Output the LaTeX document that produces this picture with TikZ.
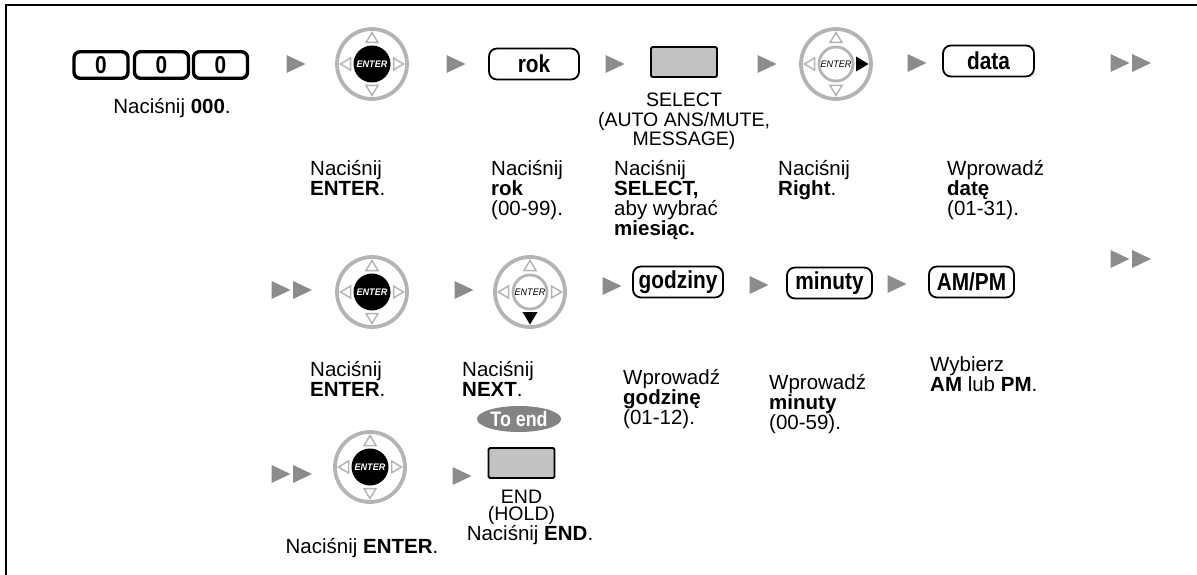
\documentclass[tikz,border=0pt]{standalone}
\usepackage{graphicx}
\usepackage{fontspec}
\setmainfont{Liberation Sans}
\usetikzlibrary{shapes.geometric}
\definecolor{ringgray}{HTML}{B4B4B4}
\definecolor{arrgray}{HTML}{8C8C8C}
\definecolor{btngray}{HTML}{C2C2C2}
\definecolor{pillgray}{HTML}{838383}
\newcommand\cnd[1]{\scalebox{0.85}[1]{#1}}
\tikzset{
  garrow/.pic={\fill[arrgray] (-9.5,-9)--(9.5,0)--(-9.5,9)--cycle;},
  gdarrow/.pic={\fill[arrgray] (-20.5,-9)--(-1.5,0)--(-20.5,9)--cycle;
                \fill[arrgray] (1,-9)--(20,0)--(1,9)--cycle;},
  wtri/.style={draw=ringgray,line width=1.5pt,line join=miter},
  btri/.style={fill=black},
  ringnode/.style={circle,draw=ringgray,line width=3.8pt,minimum size=70pt,inner sep=0pt},
  enterwheel/.pic={
    \node[ringnode] (-ring) {};
    \node[circle,fill=black,minimum size=37pt,inner sep=0pt,text=white,
          font=\fontsize{9.5}{9.5}\selectfont\bfseries\itshape] (-c) {\scalebox{0.95}[1]{ENTER}};
    \foreach \a in {0,90,180,270}{\draw[wtri,rotate=\a] (-6,-21.5)--(6,-21.5)--(0,-31.5)--cycle;}
  },
  rightwheel/.pic={
    \node[ringnode] (-ring) {};
    \node[circle,draw=ringgray,line width=2.8pt,minimum size=34pt,inner sep=0pt,
          font=\fontsize{9.5}{9.5}\selectfont\itshape] (-c) {\scalebox{0.95}[1]{ENTER}};
    \foreach \a in {0,90,180}{\draw[wtri,rotate=\a] (-6,-21.5)--(6,-21.5)--(0,-31.5)--cycle;}
    \fill[btri] (20,-7.5)--(20,7.5)--(32.5,0)--cycle;
  },
  nextwheel/.pic={
    \node[ringnode] (-ring) {};
    \node[circle,draw=ringgray,line width=2.8pt,minimum size=34pt,inner sep=0pt,
          font=\fontsize{9.5}{9.5}\selectfont\itshape] (-c) {\scalebox{0.95}[1]{ENTER}};
    \foreach \a in {0,90,270}{\draw[wtri,rotate=\a] (-6,-21.5)--(6,-21.5)--(0,-31.5)--cycle;}
    \fill[btri] (-7.5,20)--(7.5,20)--(0,32.5)--cycle;
  },
}
\begin{document}
\begin{tikzpicture}[x=1pt,y=-1pt,
  desc/.style={anchor=north west,inner sep=0pt,align=left,font=\fontsize{20.5}{20}\selectfont},
  onel/.style={inner sep=0pt,font=\fontsize{20.5}{20}\selectfont},
  lbl/.style={anchor=north,inner sep=0pt,align=center,font=\fontsize{19.5}{19.5}\selectfont},
  keyr/.style={draw,line width=1.8pt,rounded corners=8pt,minimum height=31pt,inner sep=0pt,
               font=\fontsize{24.5}{24.5}\selectfont\bfseries},
  digit/.style={draw,line width=3.4pt,rounded corners=6pt,minimum width=54pt,minimum height=26.5pt,
                inner sep=0pt,font=\fontsize{24.5}{24.5}\selectfont\bfseries},
  btn/.style={draw,fill=btngray,line width=1.8pt,rounded corners=1.5pt,minimum width=66pt,
              minimum height=30pt,inner sep=0pt},
  pill/.style={ellipse,fill=pillgray,text=white,minimum width=84pt,minimum height=26pt,inner sep=0pt,
               font=\fontsize{21}{21}\selectfont\bfseries}
]
\useasboundingbox (0,0) rectangle (1197,575);
% frame
\draw[line width=2.4pt] (1197,5) -- (6,5) -- (6,575);

% ---------- row 1 ----------
\node[digit] (k1) at (101,65) {\cnd{0}};
\node[digit] (k2) at (161.5,65) {\cnd{0}};
\node[digit] (k3) at (220.5,65) {\cnd{0}};
\node[onel] (t000) at (172,108) {Naciśnij \textbf{000}.};
\pic at (296,64) {garrow};
\pic (w1) at (372,64) {enterwheel};
\pic at (456,64) {garrow};
\node[keyr,minimum width=90pt] (rok) at (534,64) {\cnd{rok}};
\pic at (615,64) {garrow};
\node[btn] (sel) at (684,62) {};
\node[lbl] (sellbl) at (684,93) {SELECT\\(AUTO ANS/MUTE,\\MESSAGE)};
\pic at (767,64) {garrow};
\pic (w2) at (836,64) {rightwheel};
\pic at (917,63) {garrow};
\node[keyr,minimum width=91pt] (data) at (988.5,61) {\cnd{data}};
\pic at (1131,63) {gdarrow};

\node[desc] (d1) at (310,160.5) {Naciśnij\\\textbf{ENTER}.};
\node[desc] (d2) at (491,160.5) {Naciśnij\\\textbf{rok}\\(00-99).};
\node[desc] (d3) at (614,160.5) {Naciśnij\\\textbf{SELECT,}\\aby wybrać\\\textbf{miesiąc.}};
\node[desc] (d4) at (778,160.5) {Naciśnij\\\textbf{Right}.};
\node[desc] (d5) at (947,160.5) {Wprowadź\\\textbf{datę}\\(01-31).};

% ---------- row 2 ----------
\pic at (292,290) {gdarrow};
\pic (w3) at (372,292) {enterwheel};
\pic at (464,290) {garrow};
\pic (w4) at (530,292) {nextwheel};
\pic at (612,286) {garrow};
\node[keyr,minimum width=90pt] (godz) at (678,282) {\cnd{godziny}};
\pic at (759,285) {garrow};
\node[keyr,minimum width=85pt] (min) at (829.5,283) {\cnd{minuty}};
\pic at (897,284) {garrow};
\node[keyr,minimum width=85pt] (ampm) at (971.5,282) {\cnd{AM/PM}};
\pic at (1131,259) {gdarrow};

\node[desc] (d6) at (310,361.5) {Naciśnij\\\textbf{ENTER}.};
\node[desc] (d7) at (462,361.5) {Naciśnij\\\textbf{NEXT}.};
\node[pill] (toend) at (519,419) {\cnd{To end}};
\node[desc] (d8) at (623,369.5) {Wprowadź\\\textbf{godzinę}\\(01-12).};
\node[desc] (d9) at (769,374.5) {Wprowadź\\\textbf{minuty}\\(00-59).};
\node[desc] (d10) at (930,356.5) {Wybierz\\\textbf{AM} lub \textbf{PM}.};

% ---------- row 3 ----------
\pic at (292,474) {gdarrow};
\pic (w5) at (370,467) {enterwheel};
\pic at (462,476) {garrow};
\node[btn] (endb) at (521.5,463) {};
\node[lbl,font=\fontsize{19.5}{17.5}\selectfont] (endlbl) at (521.5,489.5) {END\\(HOLD)};
\node[onel] (d11) at (362,548) {Naciśnij \textbf{ENTER}.};
\node[onel] (d12) at (530,535) {Naciśnij \textbf{END}.};
\end{tikzpicture}
\end{document}
